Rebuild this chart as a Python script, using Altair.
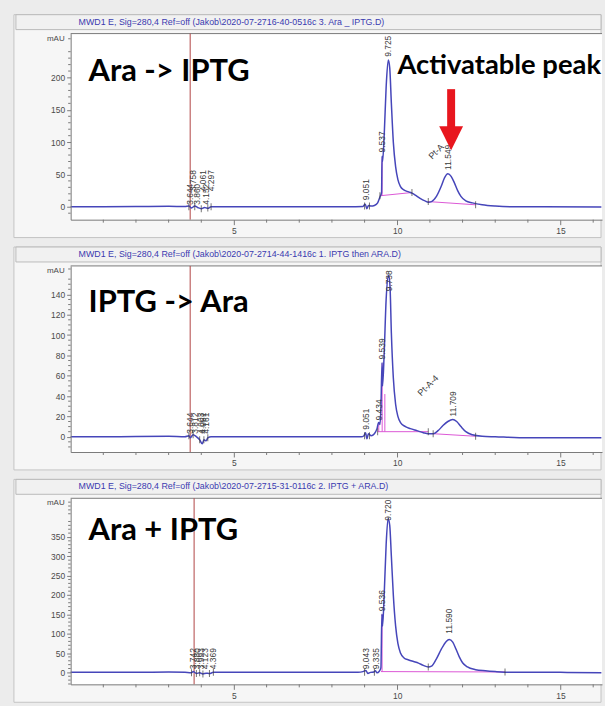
import altair as alt
import pandas as pd

# plot-area size of each chromatogram (pixels) and the retention-time window
W, H = 534, 187
T_DOMAIN = [0, 16.27]

# retention-time axis ticks (min)
T_LABELS = [5, 10, 15]
T_MINOR = [1, 2, 3, 4, 6, 7, 8, 9, 11, 12, 13, 14, 16]

HEADERS = [
    "MWD1 E, Sig=280,4 Ref=off (Jakob\\2020-07-2716-40-0516c 3. Ara _ IPTG.D)",
    "MWD1 E, Sig=280,4 Ref=off (Jakob\\2020-07-2714-44-1416c 1. IPTG then ARA.D)",
    "MWD1 E, Sig=280,4 Ref=off (Jakob\\2020-07-2715-31-0116c 2. IPTG + ARA.D)",
]
TITLES = ["Ara -> IPTG", "IPTG -> Ara", "Ara + IPTG"]
TITLE_BASELINE = [48, 46, 42]

# absorbance axes (mAU)
Y1_DOMAIN = [-20, 268]
Y1_LABELS = [0, 50, 100, 150, 200]
Y1_MINOR = [v for v in range(-10, 265, 10) if v % 50]
Y2_DOMAIN = [-15, 168]
Y2_LABELS = [0, 20, 40, 60, 80, 100, 120, 140]
Y2_MINOR = [v for v in range(-10, 166, 5) if v % 20]
Y3_DOMAIN = [-31, 450]
Y3_LABELS = [0, 50, 100, 150, 200, 250, 300, 350]
Y3_MINOR = [v for v in range(-30, 446, 10) if v % 50]

# injection marker position (min)
INJECT = [3.66, 3.66, 3.78]

# --- run 1: Ara -> IPTG ---
T1 = [0.0, 1.0, 2.0, 3.0, 3.5, 3.62, 3.7, 3.8, 3.9, 4.0, 4.1, 4.2, 4.3, 4.5, 5.5, 7.0,
      8.5, 8.95, 9.02, 9.07, 9.12, 9.2, 9.3, 9.4, 9.47, 9.52, 9.535, 9.55, 9.6, 9.66,
      9.725, 9.77, 9.82, 9.88, 9.95, 10.02, 10.1, 10.2, 10.35, 10.45, 10.55, 10.7,
      10.85, 10.95, 11.05, 11.2, 11.35, 11.45, 11.55, 11.65, 11.75, 11.85, 11.95,
      12.1, 12.3, 12.6, 13.0, 13.5, 14.5, 16.25]
A1 = [0.0, 0.0, 0.3, 0.8, 0.2, 1.0, -2.0, 1.0, -1.5, -3.0, -1.0, -2.5, 0.0, 0.0, 0.0, 0.0,
      0.0, 0.5, 4.0, -3.0, 2.0, 1.0, 2.0, 6.0, 15.0, 22.0, 78.0, 70.0, 110.0, 185.0,
      227.0, 215.0, 160.0, 100.0, 62.0, 42.0, 31.0, 26.0, 23.0, 21.0, 18.0, 13.0,
      9.0, 7.0, 8.0, 16.0, 32.0, 45.0, 51.0, 47.0, 37.0, 25.0, 16.0,
      9.0, 6.0, 3.0, 1.0, 0.0, 0.0, -0.5]
BASE1 = [[9.47, 17, 10.45, 22], [10.95, 8, 12.4, 3], [9.537, 18, 9.537, 76]]
MARK1_T = [3.62, 3.8, 4.0, 4.2, 4.3, 9.0, 9.15, 9.47, 10.45, 10.95, 12.4]
MARK1_A = [0, 0, -3, -2, 0, 1, 1, 17, 22, 8, 3]
LAB1 = [("3.644", 3.64, 3), ("3.758", 3.76, 24), ("3.860", 3.86, 3),
        ("4.061", 4.06, 24), ("4.152", 4.15, 3), ("4.297", 4.30, 24),
        ("9.051", 9.051, 10), ("9.537", 9.537, 84), ("9.725", 9.725, 232),
        ("11.549", 11.549, 57)]
SLANT1 = [("Pt-A", 11.3, 80)]

# arrow over the activatable peak (mAU at tail, neck, head centre)
ARROW_T = 11.65
ARROW_TAIL, ARROW_NECK, ARROW_HEAD = 182, 121, 106

# --- run 2: IPTG -> Ara ---
T2 = [0.0, 1.0, 2.0, 3.0, 3.5, 3.62, 3.66, 3.75, 3.85, 3.95, 4.03, 4.08, 4.15, 4.2,
      4.3, 5.0, 7.0, 8.9, 8.98, 9.03, 9.07, 9.12, 9.2, 9.3, 9.38, 9.43, 9.47, 9.5,
      9.535, 9.55, 9.6, 9.66, 9.738, 9.78, 9.82, 9.88, 9.95, 10.02, 10.1, 10.25,
      10.4, 10.6, 10.8, 10.95, 11.1, 11.25, 11.4, 11.55, 11.7, 11.82, 11.95, 12.1,
      12.3, 12.6, 13.0, 14.0, 16.25]
A2 = [0.0, 0.0, 0.3, 0.5, 0.0, 1.0, -1.0, 2.0, 0.0, -3.0, -7.0, -3.0, -4.0, -1.0,
      0.0, 0.0, 0.0, 0.0, 1.0, 4.0, -2.0, 3.0, 1.0, 3.0, 8.0, 14.0, 12.0, 28.0,
      73.0, 50.0, 82.0, 135.0, 159.0, 147.0, 102.0, 58.0, 32.0, 20.0, 14.0, 10.0,
      8.0, 6.0, 4.0, 3.0, 3.0, 6.0, 11.0, 15.0, 17.0, 15.0, 10.0, 5.0,
      2.0, 0.5, 0.0, -1.0, -1.0]
BASE2 = [[9.40, 5, 10.95, 5], [11.1, 3, 12.4, 0.5], [9.434, 5, 9.434, 14],
         [9.539, 5, 9.539, 72], [9.62, 5, 9.62, 42]]
MARK2_T = [3.62, 3.75, 3.95, 4.08, 4.2, 9.0, 9.15, 9.40, 10.95, 11.1, 12.4]
MARK2_A = [1, 2, -3, -3, -1, 1, 1, 5, 5, 3, 0.5]
LAB2 = [("3.644", 3.64, 3), ("3.812", 3.81, 3), ("4.003", 4.00, 3),
        ("4.061", 4.06, 3), ("4.161", 4.16, 3),
        ("9.051", 9.051, 7), ("9.434", 9.434, 16), ("9.539", 9.539, 76),
        ("9.738", 9.738, 143), ("11.709", 11.709, 20)]
SLANT2 = [("Pt-A-4", 11.05, 47)]

# --- run 3: Ara + IPTG ---
T3 = [0.0, 2.0, 3.0, 3.5, 3.7, 3.75, 3.85, 3.95, 4.05, 4.15, 4.25, 4.37, 5.0, 7.0,
      8.8, 8.95, 9.04, 9.1, 9.18, 9.28, 9.33, 9.38, 9.45, 9.5, 9.53, 9.55, 9.6,
      9.66, 9.72, 9.77, 9.82, 9.88, 9.95, 10.02, 10.1, 10.2, 10.35, 10.5, 10.65,
      10.8, 10.95, 11.05, 11.2, 11.35, 11.5, 11.59, 11.7, 11.8, 11.9, 12.0, 12.15,
      12.4, 12.7, 13.0, 13.5, 15.0, 16.25]
A3 = [0.0, 0.0, 1.0, 0.0, -1.0, 2.0, -3.0, -1.0, -4.0, -2.0, -3.0, 0.0, 0.0, 0.0,
      0.0, 2.0, 5.0, -3.0, 0.0, 1.0, 4.0, -1.0, 3.0, 12.0, 150.0, 120.0, 200.0,
      330.0, 398.0, 380.0, 300.0, 200.0, 120.0, 75.0, 50.0, 38.0, 32.0, 28.0, 24.0,
      18.0, 14.0, 16.0, 35.0, 60.0, 80.0, 85.0, 78.0, 60.0, 40.0, 25.0, 14.0,
      7.0, 4.0, 2.0, 0.0, 0.0, -1.0]
BASE3 = [[9.5, 2, 13.3, 1], [9.536, 2, 9.536, 150]]
MARK3_T = [3.7, 3.85, 3.95, 4.05, 4.25, 4.37, 9.0, 9.3, 10.95, 13.3]
MARK3_A = [-1, -3, -1, -4, -3, 0, 0, 0, 14, 1]
LAB3 = [("3.742", 3.74, 8), ("3.880", 3.88, 8), ("3.993", 3.99, 8),
        ("4.123", 4.12, 8), ("4.369", 4.37, 8),
        ("9.043", 9.043, 8), ("9.335", 9.335, 8), ("9.536", 9.536, 158),
        ("9.720", 9.720, 392), ("11.590", 11.590, 100)]
SLANT3 = []

TRACE_COLOR = "#4646ba"
BASE_COLOR = "#dc58d6"
INJECT_COLOR = "#b04444"
AXIS_GREY = "#7a7a7a"
TEXT_GREY = "#4a4a4a"
ARROW_RED = "#e8161e"

ONE = pd.DataFrame({"k": [0]})


def panel(i, t, a, base, mark_t, mark_a, labels, slanted, ydom, ylab, yminor, extra=()):
    xsc = alt.Scale(domain=T_DOMAIN, nice=False, zero=False)
    ysc = alt.Scale(domain=ydom, nice=False, zero=False)
    xaxis = alt.Axis(values=T_LABELS, title=None, grid=False, tickSize=5,
                     tickColor=AXIS_GREY, domainColor=AXIS_GREY, labelFontSize=8.5,
                     labelColor=TEXT_GREY, labelFont="Liberation Sans", labelPadding=2,
                     zindex=1)
    yaxis = alt.Axis(values=ylab, title=None, grid=False, tickSize=4,
                     tickColor=AXIS_GREY, domainColor=AXIS_GREY, labelFontSize=8.5,
                     labelColor=TEXT_GREY, labelFont="Liberation Sans", labelPadding=2,
                     zindex=1)

    # every layer carries the same axis definition so the shared axes merge cleanly
    def X(f):
        return alt.X(f, type="quantitative", scale=xsc, axis=xaxis)

    def Y(f):
        return alt.Y(f, type="quantitative", scale=ysc, axis=yaxis)

    # window frame, header strip and white plotting area
    outer = alt.Chart(ONE).mark_rect(fill="#f6f6f6", stroke="#c4c4c4", strokeWidth=1).encode(
        x=alt.value(-57), x2=alt.value(W - 1), y=alt.value(-19), y2=alt.value(H + 18))
    head = alt.Chart(ONE).mark_rect(fill="#f1f1f1", stroke="#bababa", strokeWidth=1).encode(
        x=alt.value(-55), x2=alt.value(W - 1), y=alt.value(-19), y2=alt.value(-4))
    plotbg = alt.Chart(ONE).mark_rect(fill="white").encode(
        x=alt.value(0), x2=alt.value(W), y=alt.value(0), y2=alt.value(H))
    head_txt = alt.Chart(ONE).mark_text(
        align="left", baseline="middle", font="Liberation Sans", fontSize=8.9,
        color="#3a3ab0").encode(x=alt.value(8), y=alt.value(-12), text=alt.value(HEADERS[i]))
    top_line = alt.Chart(ONE).mark_rule(color=AXIS_GREY).encode(
        x=alt.value(0), x2=alt.value(W), y=alt.value(0))
    mau = alt.Chart(ONE).mark_text(
        align="right", baseline="middle", font="Liberation Sans", fontSize=8,
        color=TEXT_GREY).encode(x=alt.value(-6), y=alt.value(5), text=alt.value("mAU"))

    xminor = alt.Chart(pd.DataFrame({"t": T_MINOR})).mark_rule(color=AXIS_GREY).encode(
        x=X("t"), y=alt.value(H), y2=alt.value(H + 3))
    yminor_l = alt.Chart(pd.DataFrame({"a": yminor})).mark_rule(color=AXIS_GREY).encode(
        y=Y("a"), x=alt.value(-2.5), x2=alt.value(0))

    inject = alt.Chart(pd.DataFrame({"t": [INJECT[i]]})).mark_rule(
        color=INJECT_COLOR, strokeWidth=1).encode(x=X("t"))

    bdf = pd.DataFrame(base, columns=["t0", "a0", "t1", "a1"])
    baseline = alt.Chart(bdf).mark_rule(color=BASE_COLOR, strokeWidth=1).encode(
        x=X("t0"), y=Y("a0"), x2=alt.X2("t1"), y2=alt.Y2("a1"))

    trace = alt.Chart(pd.DataFrame({"t": t, "a": a})).mark_line(
        color=TRACE_COLOR, strokeWidth=1.5, interpolate="monotone").encode(
        x=X("t"), y=Y("a"))

    marks = alt.Chart(pd.DataFrame({"t": mark_t, "a": mark_a})).mark_tick(
        orient="vertical", color="#3a3a3a", size=7, thickness=1).encode(x=X("t"), y=Y("a"))

    ldf = pd.DataFrame(labels, columns=["txt", "t", "a"])
    lab = alt.Chart(ldf).mark_text(
        angle=270, align="left", baseline="middle", font="Liberation Sans",
        fontSize=8.5, color="#3a3a3a").encode(x=X("t"), y=Y("a"), text="txt:N")

    layers = [outer, head, plotbg, head_txt, top_line, mau, xminor, yminor_l, inject,
              baseline, trace, marks, lab]

    if slanted:
        sdf = pd.DataFrame(slanted, columns=["txt", "t", "a"])
        layers.append(alt.Chart(sdf).mark_text(
            angle=315, align="center", baseline="bottom", font="Liberation Sans",
            fontSize=9, color="#3a3a3a").encode(x=X("t"), y=Y("a"), text="txt:N"))

    title = alt.Chart(ONE).mark_text(
        align="left", baseline="alphabetic", font="Lato", fontWeight="bold",
        fontSize=31, color="black").encode(
        x=alt.value(18), y=alt.value(TITLE_BASELINE[i]), text=alt.value(TITLES[i]))
    layers.append(title)

    for build in extra:
        layers.extend(build(X, Y))

    return alt.layer(*layers).properties(width=W, height=H)


def activatable(X, Y):
    label = alt.Chart(ONE).mark_text(
        align="right", baseline="alphabetic", font="Lato", fontWeight="bold",
        fontSize=27.5, color="black").encode(
        x=alt.value(W - 1), y=alt.value(41), text=alt.value("Activatable peak"))
    shaft = alt.Chart(pd.DataFrame({"t": [ARROW_T], "a0": [ARROW_TAIL], "a1": [ARROW_NECK]})).mark_rule(
        color=ARROW_RED, strokeWidth=8, strokeCap="butt").encode(
        x=X("t"), y=Y("a0"), y2=alt.Y2("a1"))
    tip = alt.Chart(pd.DataFrame({"t": [ARROW_T], "a": [ARROW_HEAD]})).mark_point(
        shape="M-1,-1L1,-1L0,1Z", filled=True, size=576, color=ARROW_RED, opacity=1,
        strokeWidth=0).encode(x=X("t"), y=Y("a"))
    return [label, shaft, tip]


p1 = panel(0, T1, A1, BASE1, MARK1_T, MARK1_A, LAB1, SLANT1,
           Y1_DOMAIN, Y1_LABELS, Y1_MINOR, extra=(activatable,))
p2 = panel(1, T2, A2, BASE2, MARK2_T, MARK2_A, LAB2, SLANT2,
           Y2_DOMAIN, Y2_LABELS, Y2_MINOR)
p3 = panel(2, T3, A3, BASE3, MARK3_T, MARK3_A, LAB3, SLANT3,
           Y3_DOMAIN, Y3_LABELS, Y3_MINOR)

chart = alt.vconcat(p1, p2, p3, spacing=46.5, bounds="flush").properties(
    padding={"left": 13, "top": 12, "right": 0, "bottom": 2},
    background="#ececec",
).configure_view(stroke="transparent")

chart.save("out.html", embed_options={"renderer": "svg", "actions": False})
